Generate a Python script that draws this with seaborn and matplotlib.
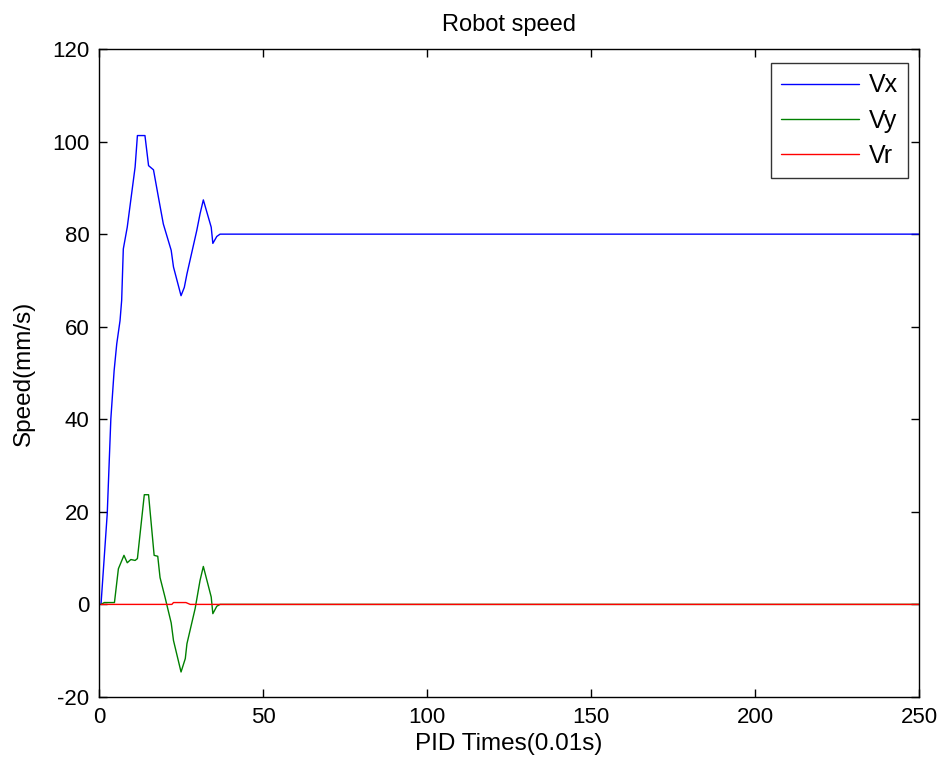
import matplotlib
matplotlib.use("Agg")
import matplotlib.pyplot as plt
import seaborn as sns

# Robot speed components over PID control steps
vx_t = [0.6, 2.5, 3.6, 4.6, 5.4, 6.4, 6.9, 7.4, 8.6, 11.0, 11.7, 14.0, 15.1, 16.6,
        18.1, 19.6, 22.0, 22.7, 25.0, 26.0, 26.8, 29.8, 30.8, 31.8, 34.2, 34.7,
        35.9, 36.9, 250]
vx = [0, 19.6, 40.1, 50.5, 56.3, 61.3, 65.7, 76.8, 81.5, 94.5, 101.3, 101.3, 94.8,
      93.9, 88.0, 82.2, 76.5, 72.9, 66.7, 68.5, 71.4, 80.8, 84.4, 87.4, 81.5, 78.0,
      79.5, 80.0, 80.0]

vy_t = [0.6, 1.6, 4.7, 5.9, 7.6, 8.6, 9.7, 11.0, 11.7, 13.8, 15.1, 16.8, 17.9, 18.6,
        20.1, 22.0, 22.7, 25.0, 26.3, 26.8, 29.3, 30.8, 31.8, 34.2, 34.7, 35.9,
        36.9, 250]
vy = [0, 0.4, 0.4, 7.7, 10.6, 9.0, 9.7, 9.5, 9.9, 23.7, 23.7, 10.6, 10.4, 5.8, 1.6,
      -4.0, -7.8, -14.6, -11.7, -8.5, -0.9, 5.2, 8.2, 1.6, -2.0, -0.4, 0, 0]

vr_t = [0.6, 22.2, 22.7, 26.5, 27.8, 250]
vr = [0, 0, 0.4, 0.4, 0, 0]

labels = ["Vx", "Vy", "Vr"]
colors = ["#0000ff", "#008000", "#ff0000"]
xticks = [0, 50, 100, 150, 200, 250]
yticks = [-20, 0, 20, 40, 60, 80, 100, 120]

sns.set_theme(style="ticks")
plt.rcParams["font.family"] = ["Liberation Sans", "DejaVu Sans"]
plt.rcParams["axes.unicode_minus"] = False
plt.rcParams["text.color"] = "black"
plt.rcParams["axes.labelcolor"] = "black"

fig = plt.figure(figsize=(9.45, 7.67), dpi=100)
ax = fig.add_axes([0.1048, 0.0913, 0.8677, 0.8448])

for t, v, lab, c in zip([vx_t, vy_t, vr_t], [vx, vy, vr], labels, colors):
    sns.lineplot(x=t, y=v, ax=ax, color=c, label=lab, linewidth=1.0,
                 sort=False, estimator=None)

ax.set_xlim(0, 250)
ax.set_ylim(-20, 120)
ax.set_xticks(xticks)
ax.set_yticks(yticks)
ax.tick_params(direction="in", length=6, width=1, labelsize=16, colors="black",
               top=True, right=True, pad=7)
for s in ax.spines.values():
    s.set_color("black")
    s.set_linewidth(1.0)

ax.set_title("Robot speed", fontsize=17, pad=13, color="black")
ax.set_xlabel("PID Times(0.01s)", fontsize=17.5, labelpad=4)
ax.set_ylabel("Speed(mm/s)", fontsize=17.5, labelpad=12)

leg = ax.legend(loc="upper right", bbox_to_anchor=(0.9866, 0.978), borderaxespad=0,
                fontsize=18, frameon=True, fancybox=False, handlelength=3.1,
                handletextpad=0.4, labelspacing=0.45, borderpad=0.4)
leg.get_frame().set_edgecolor("black")
leg.get_frame().set_linewidth(1.0)

fig.savefig("out.png", dpi=100)
